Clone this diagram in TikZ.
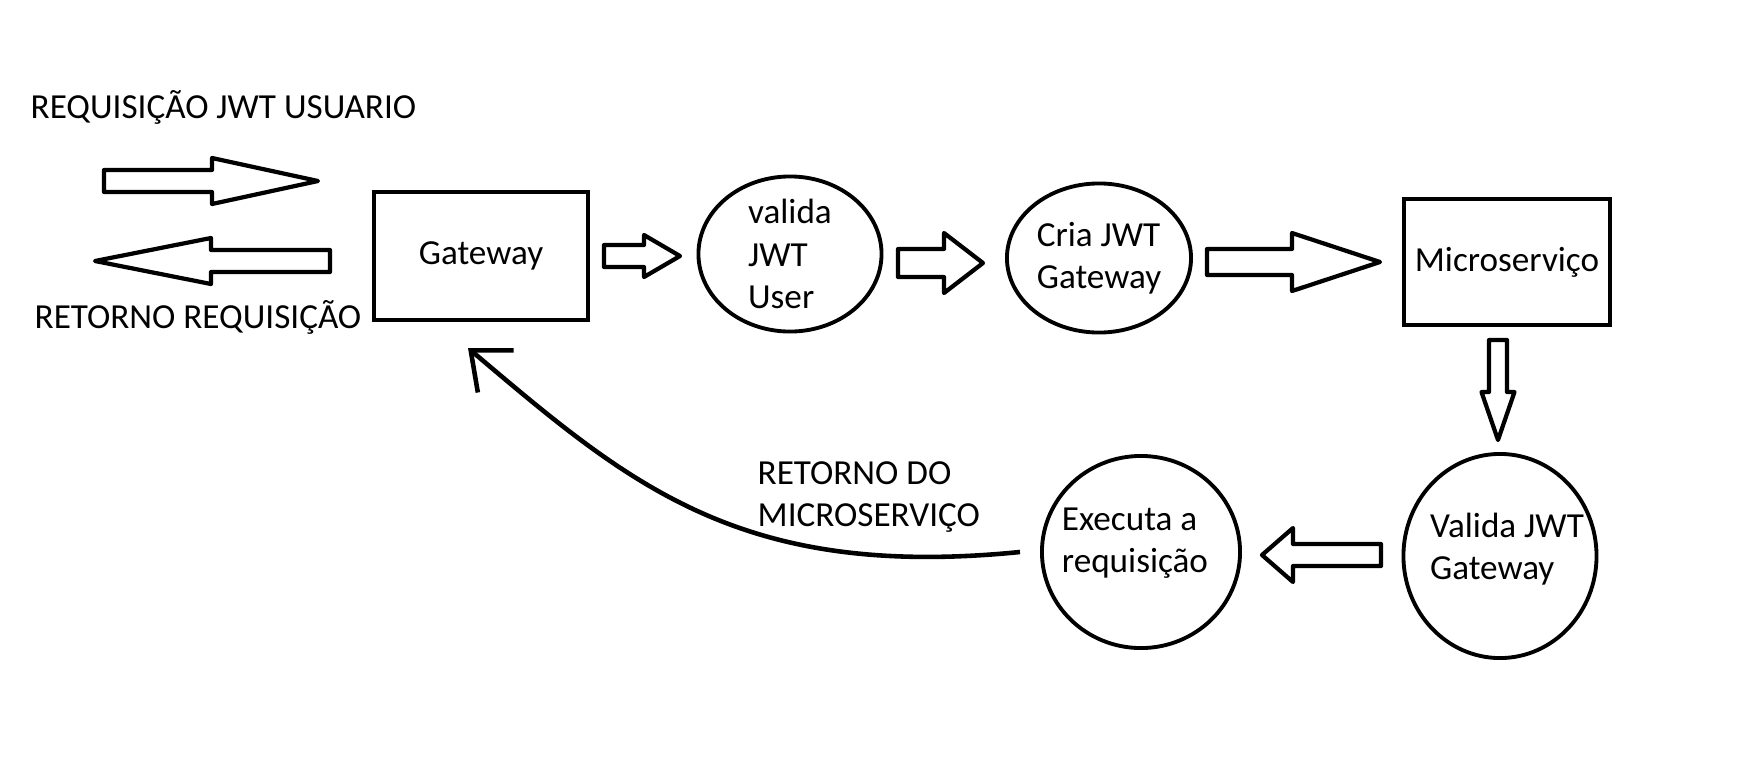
\documentclass[tikz,border=0pt]{standalone}
\usepackage{fontspec}
\setmainfont{Carlito}
\usetikzlibrary{arrows.meta,shapes.geometric}

\tikzset{
    pics/blockarrow/.style n args={4}{code={
        \draw[blk] (0,-#2) -- ({#1-#4},-#2) -- ({#1-#4},-#3) -- (#1,0) -- ({#1-#4},#3) -- ({#1-#4},#2) -- (0,#2) -- cycle;
    }}
}

\begin{document}
\begin{tikzpicture}[
                    x=0.01cm, y=-0.01cm,
                    >={Straight Barb[length=9.3pt,width=15.7pt]},
                    font=\fontsize{10}{12}\selectfont,
                    box/.style={draw, rectangle, line width=1.15pt, inner sep=0pt},
                    oval/.style={draw, ellipse, line width=1.1pt, inner sep=0pt, align=left},
                    txt/.style={inner sep=0pt, align=left},
                    blk/.style={draw, line width=1.2pt, line join=round}
                    ]
        \useasboundingbox (0,0) rectangle (1753,766);

        \node [txt, anchor=west] (req) at (30,107) {REQUISIÇÃO JWT USUARIO};
        \node [txt, anchor=west] (ret) at (34,317) {RETORNO REQUISIÇÃO};
        \node [box, minimum width=2.14cm, minimum height=1.28cm] (gw) at (481,256) {Gateway};
        \node [oval, minimum width=1.83cm, minimum height=1.55cm] (valida) at (790,254) {valida\\JWT\\User};
        \node [oval, minimum width=1.84cm, minimum height=1.49cm] (cria) at (1099,258) {Cria JWT\\Gateway};
        \node [box, minimum width=2.06cm, minimum height=1.26cm] (micro) at (1507,262) {Microserviço};
        \node [oval, minimum width=1.93cm, minimum height=2.04cm] (valgw) at (1500,556) {};
        \node [txt] (valgwtxt) at (1507,549) {Valida JWT\\Gateway};
        \node [oval, minimum width=1.98cm, minimum height=1.92cm] (exec) at (1141,552) {};
        \node [txt] (exectxt) at (1135,543) {Executa a\\requisição};
        \node [txt, anchor=west] (retmicro) at (757,497) {RETORNO DO\\MICROSERVIÇO};
        \coordinate (back) at (468,348);

        \pic at (104,181) {blockarrow={214}{11}{23}{106}};
        \pic [rotate=180] at (330,261) {blockarrow={235}{11}{23}{116}};
        \pic at (604,256) {blockarrow={76}{11}{21}{36}};
        \pic at (898,263) {blockarrow={85}{14}{30}{39}};
        \pic at (1207,262) {blockarrow={173}{13}{29}{88}};
        \pic [rotate=-90] at (1498,340) {blockarrow={100}{9}{16.5}{48}};
        \pic [rotate=180] at (1381,555) {blockarrow={119}{11}{27}{31}};

        \draw[->, line width=1.3pt] ([xshift=-0.2cm]exec.west) .. controls (740,580) and (630,485) .. (back);
    \end{tikzpicture}
\end{document}
